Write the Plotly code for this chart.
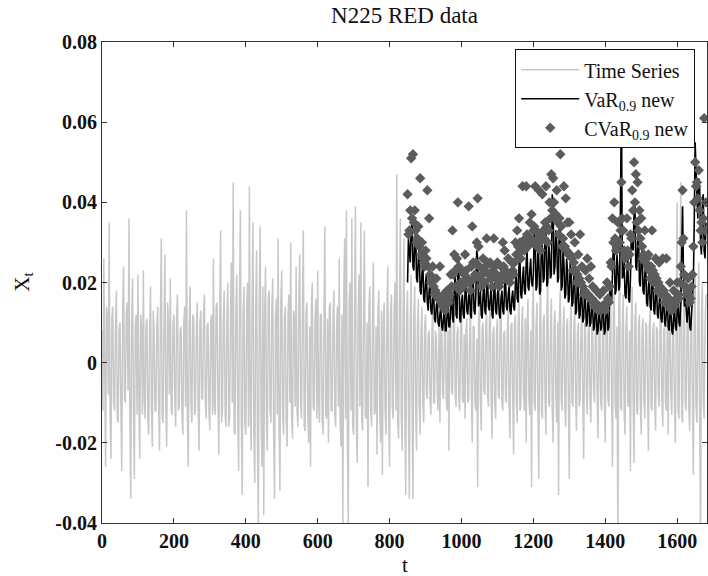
import numpy as np
import plotly.graph_objects as go

# ---------------- data (values in thousandths) ----------------
ts_step = 5
# time series on days t = 0, 5, 10, ...
ts_thousandths = [
    8, 26, -26, 12, 35, -24, 14, -12, 18, -15, 10, -27, 24, -10, 15, 36, -34, 21, -29, 12,
    22, -24, 9, 23, -14, 11, -18, 19, -21, 8, -12, 14, -22, 31, -15, 27, -21, 10, 21, -13,
    12, -16, 17, -11, 9, -18, 14, 38, -26, 19, -15, 11, -12, 15, -22, 13, -9, 17, -14, 10,
    -17, 12, 26, -13, 15, -23, 33, -12, 18, -16, 20, -14, 25, 45, -18, 22, -27, 38, -33, 19,
    -18, 20, 44, -22, 35, -30, 28, -40, 34, -26, -38, 24, -22, 18, -15, 21, -34, 16, 31, -32,
    23, -18, 14, -21, 17, 30, -19, 12, 24, -16, 27, -14, 33, -17, 15, -20, -26, 20, -12, 16,
    23, -15, 12, -18, 34, -14, -20, 15, -12, 18, -16, 14, 26, -21, -40, 31, 38, -40, 20, 36,
    -18, 39, -25, 22, 35, -17, 33, -14, -31, 19, -16, 25, -12, -23, 18, -20, -28, 15, -18, 24,
    -26, 17, -14, 20, 47, -19, 36, -22, 31, -33, 18, -34, 22, -34, 19, -22, 16, -18, 14, -15,
    12, -9, 8, -13, 15, -10, 6, -12, -15, 11, -9, 14, -12, -22, 10, -8, 13, -11, 9, -12,
    16, -10, -14, 11, -9, 13, -20, 9, -12, -31, 14, -17, 10, -8, 12, -11, 15, -19, 9, -14,
    11, -9, 17, -12, 8, -10, 13, -19, 10, -23, 12, -15, 18, -11, 14, -12, -20, 16, -13, -31,
    20, -12, 15, -29, 22, -14, 12, -18, 24, -11, 16, -20, 13, -15, -33, 18, -12, 14, -16, 11,
    -29, 15, -11, 13, -17, 10, -9, 12, -24, 9, -13, 11, -15, 8, -10, 12, -19, 9, -12, 10,
    -20, 13, -11, 16, -26, 18, -14, -46, 22, -12, 17, -18, 14, -11, -27, 19, -25, 15, -13, 12,
    -18, 11, -14, 9, -22, 13, -12, 10, -17, 8, -11, 14, -16, 9, -12, -18, 11, -13, 10, -20,
    40, -14, 45, -15, 16, -12, 18, -17, 14, -28, 22, -15, 25, -46, 20, -14, 17,
]
# time series on the days in between, t = 2.5, 7.5, ...
ts_mid_thousandths = [
    -12, -9, 14, -8, -13, 11, -10, 9, -14, 8, -11, 13, -9, 12, -7, -15, 10, -12, 9, -13,
    -10, 12, -13, -9, 10, -14, 8, -11, 13, -12, 9, -10, 12, -14, 9, -11, 15, -8, -12, 10,
    -9, 11, -12, 8, -13, 10, -11, -14, 9, -10, 12, -13, 8, -11, 10, -9, 12, -10, 9, -12,
    10, -13, -11, 14, -9, 12, -15, 10, -13, 11, -16, 12, -10, -17, 13, -12, 16, -14, 12, -15,
    14, -16, -12, 15, -18, 13, -20, 17, -14, 19, 12, -15, 16, -12, 14, -18, 11, -13, -16, 15,
    -13, 11, -15, 12, -10, -14, 13, -11, -12, 15, -10, 14, -16, 12, -13, 9, 14, -11, 10, -14,
    -11, 12, -14, 10, -13, 11, 14, -12, 10, -13, 9, -11, -15, 12, 16, -14, -18, 15, -12, -16,
    13, -15, 12, -11, -14, 12, -13, 10, 14, -12, 11, -13, 9, 12, -11, 13, 10, -12, 11, -14,
    12, -11, 13, -12, -15, 14, -13, 11, -14, 12, -12, 10, -11, 12, -10, 9, -11, 8, -10, 9,
    -8, 7, -9, 6, -10, 8, -7, 9, 7, -8, 6, -9, 8, 10, -7, 9, -8, 7, -9, 8,
    -9, 7, 8, -10, 7, -8, 9, -10, 6, 11, -9, 8, -7, 9, -8, 10, -9, 7, -10, 8,
    -8, 9, -10, 7, -9, 8, -11, 9, -7, 10, -9, 8, -12, 9, -8, 11, 10, -9, 8, 12,
    -10, 9, -11, 8, -12, 10, -9, 11, -10, 8, -12, 9, -8, 10, 12, -9, 8, -11, 9, -10,
    9, -10, 8, -9, 7, -11, 8, -9, 10, -8, 7, -10, 9, -7, 8, -9, 7, -10, 8, -9,
    10, -9, 11, -8, 12, -10, 9, 13, -11, 10, -12, 9, -10, 8, 11, -9, 10, -12, 9, -10,
    8, -9, 10, -7, 9, -11, 8, -10, 9, -8, 10, -9, 8, -10, 9, 11, -8, 9, -11, 10,
    -12, 10, -13, 11, -10, 9, -12, 10, -9, 12, -11, 10, -14, 12, -10, 9,
]

risk_start = 850
risk_step = 5
# VaR on days t = 850, 855, ...
var_thousandths = [
    20, 28, 33, 24, 30, 21, 26, 18, 22, 16,
    20, 15, 18, 13, 16, 11, 14, 10, 12, 9, 11, 8, 12, 9, 14, 11, 19, 12, 24, 11,
    15, 12, 18, 13, 16, 12, 20, 13, 17, 26, 15, 12, 17, 13, 19, 14, 16, 12, 18, 13,
    17, 12, 16, 13, 19, 14, 17, 13, 16, 14, 20, 16, 24, 17, 21, 18, 25, 19, 23, 20,
    22, 30, 19, 26, 18, 28, 21, 32, 20, 27, 22, 39, 24, 30, 21, 33, 19, 25, 17, 23,
    16, 22, 15, 20, 13, 18, 12, 16, 11, 15, 10, 14, 10, 13, 9, 12, 8, 11, 9, 12,
    8, 13, 9, 16, 22, 27, 18, 24, 19, 65, 22, 17, 24, 16, 21, 29, 37, 24, 30, 20,
    26, 18, 22, 15, 19, 14, 20, 13, 17, 12, 15, 11, 14, 10, 13, 9, 12, 8, 11, 9,
    13, 10, 15, 39, 14, 11, 13, 9, 12, 20, 55, 38, 46, 30, 40, 28, 35,
]
# VaR on the days in between (t 852.5 .. 1677.5)
var_mid_thousandths = [
    31, 25, 36, 23, 33, 20, 29, 17, 25, 15,
    22, 13, 20, 12, 18, 10, 16, 9, 14, 8, 14, 8, 15, 9, 18, 10, 22, 11, 26, 10,
    17, 11, 20, 12, 19, 11, 22, 12, 28, 14, 18, 11, 20, 12, 21, 13, 19, 11, 20, 12,
    19, 11, 18, 12, 21, 13, 19, 12, 18, 13, 23, 15, 27, 16, 24, 17, 28, 18, 26, 19,
    33, 18, 29, 17, 31, 20, 35, 19, 30, 21, 42, 22, 33, 20, 36, 18, 28, 16, 26, 15,
    25, 14, 23, 12, 21, 11, 19, 10, 18, 9, 17, 9, 16, 8, 15, 7, 14, 8, 15, 7,
    15, 8, 19, 15, 30, 17, 27, 18, 40, 21, 25, 16, 27, 15, 32, 28, 40, 23, 33, 19,
    29, 17, 25, 14, 22, 13, 23, 12, 20, 11, 18, 10, 17, 9, 16, 8, 15, 7, 14, 8,
    16, 9, 30, 22, 17, 10, 16, 8, 18, 35, 48, 36, 44, 27, 42, 26,
]
# CVaR on the same days as VaR
cvar_thousandths = [
    42, 33, 51, 52, 38, 30, 34, 46, 30, 25,
    28, 43, 36, 20, 24, 17, 21, 16, 24, 15, 17, 13, 18, 15, 22, 33, 27, 19, 40, 18,
    23, 19, 27, 20, 39, 18, 34, 21, 25, 41, 24, 19, 26, 20, 31, 22, 25, 19, 31, 21,
    25, 19, 24, 30, 28, 21, 26, 20, 25, 22, 30, 33, 36, 26, 44, 28, 44, 29, 35, 37,
    33, 44, 29, 43, 28, 42, 31, 44, 30, 40, 47, 46, 36, 43, 32, 52, 29, 44, 41, 35,
    35, 32, 23, 30, 20, 27, 32, 24, 17, 23, 26, 21, 24, 19, 14, 18, 13, 17, 14, 18,
    13, 20, 15, 25, 36, 40, 28, 35, 30, 45, 33, 26, 36, 24, 32, 43, 50, 47, 45, 38,
    36, 26, 33, 26, 27, 21, 33, 20, 26, 18, 25, 17, 26, 15, 26, 14, 20, 13, 18, 15,
    20, 16, 24, 43, 22, 17, 21, 15, 19, 29, 50, 45, 48, 33, 30, 61, 40,
]
# CVaR on the days in between (t 852.5 .. 1677.5)
cvar_mid_thousandths = [
    32, 38, 36, 35, 33, 31, 29, 27, 26, 24,
    26, 24, 22, 21, 19, 18, 17, 16, 15, 14, 14, 15, 16, 17, 19, 22, 23, 26, 24, 20,
    20, 22, 23, 21, 20, 24, 25, 22, 30, 29, 21, 22, 23, 24, 25, 22, 21, 23, 24, 22,
    21, 20, 22, 24, 23, 22, 21, 22, 23, 25, 27, 29, 30, 28, 29, 31, 32, 30, 31, 30,
    34, 33, 31, 30, 32, 33, 35, 34, 33, 36, 38, 40, 37, 35, 36, 34, 31, 29, 28, 27,
    27, 26, 25, 23, 22, 21, 20, 19, 18, 17, 17, 16, 16, 15, 15, 14, 14, 13, 14, 14,
    15, 16, 19, 24, 30, 31, 29, 30, 33, 36, 28, 27, 28, 27, 31, 38, 40, 35, 33, 31,
    29, 27, 25, 24, 23, 24, 23, 22, 21, 20, 19, 18, 18, 17, 16, 16, 15, 15, 14, 16,
    17, 20, 30, 31, 19, 18, 17, 16, 22, 40, 44, 41, 38, 35, 36, 33,
]

x_tick_vals = [0, 200, 400, 600, 800, 1000, 1200, 1400, 1600]
y_tick_vals = [-0.04, -0.02, 0, 0.02, 0.04, 0.06, 0.08]
y_tick_text = ["-0.04", "-0.02", "0", "0.02", "0.04", "0.06", "0.08"]


# ---------------- build ----------------
def merge(main_vals, mid_vals, start, step):
    t_main = start + np.arange(len(main_vals)) * step
    t_mid = start + step / 2 + np.arange(len(mid_vals)) * step
    t_all = np.concatenate([t_main, t_mid])
    v_all = np.concatenate([main_vals, mid_vals]) / 1000.0
    order = np.argsort(t_all, kind="stable")
    return t_all[order], v_all[order]


series_t, series_v = merge(ts_thousandths, ts_mid_thousandths, 0, ts_step)
var_t, var_v = merge(var_thousandths, var_mid_thousandths, risk_start, risk_step)
cvar_t, cvar_v = merge(cvar_thousandths, cvar_mid_thousandths, risk_start, risk_step)

SERIF = "Liberation Serif, Times New Roman, serif"
INK = "#111111"

fig = go.Figure()
fig.add_trace(go.Scatter(x=series_t, y=series_v, mode="lines", name="Time Series",
                         line=dict(color="#c8c8c8", width=1.5), legendgroup="a"))
fig.add_trace(go.Scatter(x=var_t, y=var_v, mode="lines", name="VaR<sub>0.9</sub> new",
                         line=dict(color="#000000", width=1.6), legendgroup="b"))
fig.add_trace(go.Scatter(x=cvar_t, y=cvar_v, mode="markers", name="CVaR<sub>0.9</sub> new",
                         marker=dict(symbol="diamond", size=8, color="#5c5c5c"),
                         legendgroup="c"))

axis_common = dict(showgrid=False, zeroline=False, showline=True, linecolor="#333333",
                   linewidth=1, mirror="ticks", ticks="inside", ticklen=5,
                   tickcolor="#333333", automargin=False,
                   tickfont=dict(family=SERIF, size=20, color=INK, weight="bold"))

fig.update_layout(
    width=708, height=576,
    margin=dict(l=102, r=1, t=42, b=53),
    paper_bgcolor="white", plot_bgcolor="white",
    title=dict(text="N225 RED data", x=0.5, xref="paper", y=0.974, yref="container",
               xanchor="center", yanchor="middle",
               font=dict(family=SERIF, size=23, color=INK)),
    xaxis=dict(range=[0, 1683], tickvals=x_tick_vals, **axis_common),
    yaxis=dict(range=[-0.04, 0.08], tickvals=y_tick_vals, ticktext=y_tick_text, **axis_common),
    legend=dict(x=0.683, y=0.985, xanchor="left", yanchor="top",
                bgcolor="white", bordercolor=INK, borderwidth=1,
                traceorder="grouped", tracegroupgap=0, itemwidth=58,
                font=dict(family=SERIF, size=20, color=INK)),
    showlegend=True,
    annotations=[
        dict(text="t", x=0.5, xref="paper", y=-0.087, yref="paper", showarrow=False,
             xanchor="center", yanchor="middle", font=dict(family=SERIF, size=21, color=INK)),
        dict(text="X<sub>t</sub>", x=-0.132, xref="paper", y=0.5, yref="paper",
             showarrow=False, textangle=-90, xanchor="center", yanchor="middle",
             font=dict(family=SERIF, size=21, color=INK)),
    ],
)

fig.write_html("out.html", config={"displayModeBar": False},
               post_script="document.body.style.margin='0';")
